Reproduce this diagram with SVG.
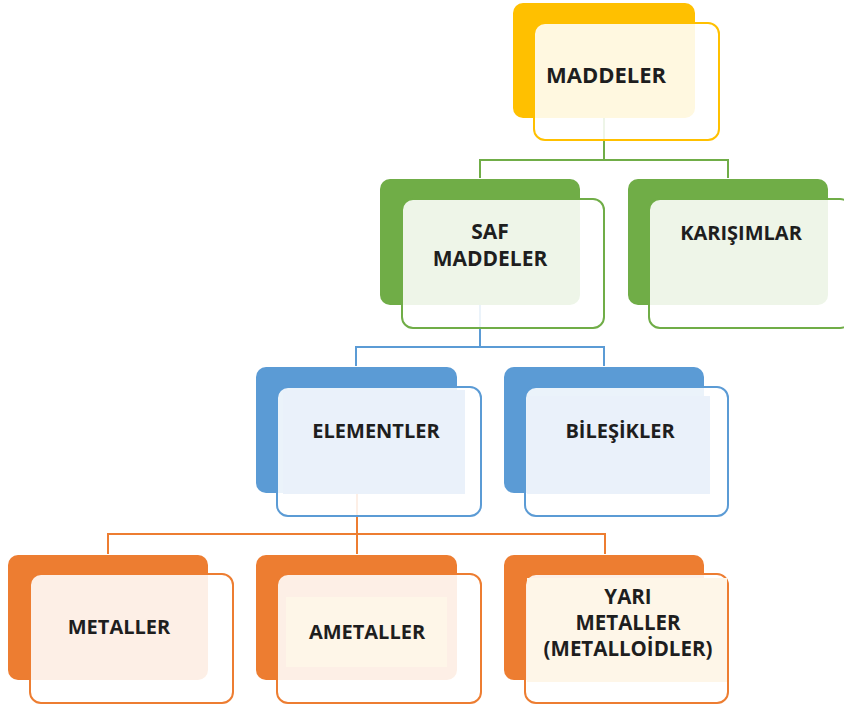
<svg xmlns="http://www.w3.org/2000/svg" width="844" height="708" viewBox="0 0 844 708">
<style>
.bg{fill:#fff}
.back{stroke:none}
.front{fill:#fff;fill-opacity:0.88;stroke-width:2}
.tint{stroke:none}
.t{font-family:"Open Sans","DejaVu Sans",sans-serif;font-weight:bold;fill:#1e1e1e;text-anchor:middle}
.c{fill:none;stroke-width:2}
.y .back{fill:#FFC000}.y .front{stroke:#FFC000}
.g .back{fill:#70AD47}.g .front{stroke:#70AD47}
.b .back{fill:#5B9BD5}.b .front{stroke:#5B9BD5}.b .tint{fill:#EAF1FA}
.o .back{fill:#ED7D31}.o .front{stroke:#ED7D31}.o .tint{fill:#FEF6E8}
</style>
<rect class="bg" x="0" y="0" width="844" height="708"/>
<g id="connectors">
  <path class="c" stroke="#70AD47" d="M604 118 V160 M480 178 V160 H728 V178"/>
  <path class="c" stroke="#5B9BD5" d="M480 305 V347 M356 366 V347 H604 V366"/>
  <path class="c" stroke="#ED7D31" d="M357 493 V534 M108 554 V534 H605 V554 M357 534 V554"/>
</g>
<g id="maddeler" class="y">
  <rect class="back" x="513" y="3" width="182" height="115" rx="10"/>
  <rect class="front" x="534" y="23" width="185" height="117" rx="11"/>
  <text class="t" x="606" y="83" font-size="22">MADDELER</text>
</g>
<g id="saf-maddeler" class="g">
  <rect class="back" x="380" y="179" width="200" height="126" rx="10"/>
  <rect class="front" x="402" y="199" width="202" height="129" rx="11"/>
  <text class="t" font-size="21"><tspan x="490" y="239">SAF</tspan><tspan x="490" y="266">MADDELER</tspan></text>
</g>
<g id="karisimlar" class="g">
  <rect class="back" x="628" y="179" width="200" height="126" rx="10"/>
  <rect class="front" x="649" y="199" width="202" height="129" rx="11"/>
  <text class="t" x="741" y="240" font-size="20">KARIŞIMLAR</text>
</g>
<g id="elementler" class="b">
  <rect class="back" x="256" y="367" width="201" height="126" rx="10"/>
  <rect class="front" x="277" y="387" width="204" height="129" rx="11"/>
  <rect class="tint" x="283" y="390" width="182" height="104"/>
  <text class="t" x="376" y="438" font-size="20">ELEMENTLER</text>
</g>
<g id="bilesikler" class="b">
  <rect class="back" x="504" y="367" width="200" height="126" rx="10"/>
  <rect class="front" x="525" y="387" width="203" height="129" rx="11"/>
  <rect class="tint" x="527" y="396" width="183" height="98"/>
  <text class="t" x="620" y="438" font-size="20">BİLEŞİKLER</text>
</g>
<g id="metaller" class="o">
  <rect class="back" x="8" y="555" width="200" height="125" rx="10"/>
  <rect class="front" x="30" y="574" width="203" height="129" rx="11"/>
  <text class="t" x="119" y="634" font-size="20">METALLER</text>
</g>
<g id="ametaller" class="o">
  <rect class="back" x="256" y="555" width="201" height="125" rx="10"/>
  <rect class="front" x="277" y="574" width="204" height="129" rx="11"/>
  <rect class="tint" x="286" y="597" width="161" height="70"/>
  <text class="t" x="367" y="639" font-size="20">AMETALLER</text>
</g>
<g id="yari-metaller" class="o">
  <rect class="back" x="504" y="555" width="200" height="125" rx="10"/>
  <rect class="front" x="525" y="574" width="203" height="129" rx="11"/>
  <rect class="tint" x="527" y="578" width="200" height="104"/>
  <text class="t" font-size="20.5"><tspan x="628" y="604">YARI</tspan><tspan x="628" y="630">METALLER</tspan><tspan x="628" y="656">(METALLOİDLER)</tspan></text>
</g>
</svg>
